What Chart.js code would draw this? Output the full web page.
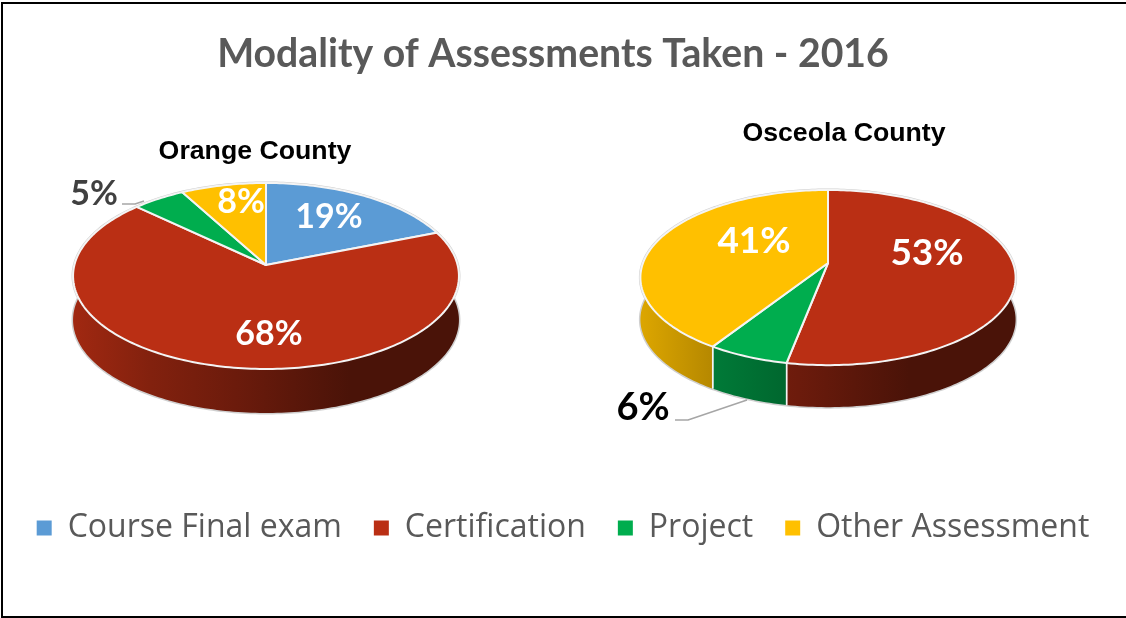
<!DOCTYPE html>
<html>
<head>
<meta charset="utf-8">
<title>Modality of Assessments Taken - 2016</title>
<script src="https://cdn.jsdelivr.net/npm/chart.js@4/dist/chart.umd.min.js"></script>
<style>
  html, body { margin: 0; padding: 0; background: #fff; overflow: hidden; }
  #frame { position: absolute; left: 1px; top: 2px; width: 1160px; height: 616px; box-sizing: border-box; border: 2px solid #000; }
  #pies { position: absolute; left: 0; top: 0; }
</style>
</head>
<body>
<div id="frame"></div>
<canvas id="pies" width="1126" height="618"></canvas>
<script>
const categories = ['Course Final exam', 'Certification', 'Project', 'Other Assessment'];
const counties = ['Orange County', 'Osceola County'];
const orangeValues = [19, 68, 5, 8];
const osceolaValues = [0, 53, 6, 41];
const chartTitle = 'Modality of Assessments Taken - 2016';

const colors = ['#5B9BD5', '#BA2F14', '#00AD4E', '#FFC000'];

// perspective of each pie: x,y = vertex on screen, p = tilt of the projection
const pieShapes = [
  { x: 266, y: 265, rx: 191.6, ry: 91.7, p: 0.118, depth: 44 },
  { x: 828, y: 263, rx: 185, ry: 85.2, p: 0.166, depth: 42 },
];
const countyTitles = [
  { x: 255, y: 152, size: 26.7 },
  { x: 844, y: 134, size: 26.7 },
];
// where each percentage goes, by category index
const labelSpots = [
  [
    { x: 329, y: 217, size: 34, color: '#fff' },
    { x: 269, y: 334, size: 34, color: '#fff' },
    { x: 94, y: 194, size: 34, color: '#404040' },
    { x: 241, y: 202, size: 34, color: '#fff' },
  ],
  [
    null,
    { x: 927, y: 253, size: 37, color: '#fff' },
    { x: 643, y: 408, size: 38, color: '#000' },
    { x: 754, y: 241, size: 37, color: '#fff' },
  ],
];
const leaders = [
  [[122, 204], [135, 204], [144, 201]],
  [[675, 420], [688, 420], [747, 400]],
];

function project(shape, theta, drop) {
  const u = Math.sin(theta);
  const v = Math.cos(theta);
  const w = 1 + shape.p * v;
  return [shape.x + (shape.rx * u) / w, shape.y - (shape.ry * v) / w + drop];
}

function shade(hex, k) {
  const n = parseInt(hex.slice(1), 16);
  const r = Math.round(((n >> 16) & 255) * k);
  const g = Math.round(((n >> 8) & 255) * k);
  const b = Math.round((n & 255) * k);
  return `rgb(${r},${g},${b})`;
}

function traceArc(ctx, shape, from, to, drop) {
  const steps = Math.max(2, Math.ceil(Math.abs(to - from) / 0.02));
  for (let i = 0; i <= steps; i++) {
    const p = project(shape, from + ((to - from) * i) / steps, drop);
    ctx.lineTo(p[0], p[1]);
  }
}

function drawHalo(ctx, shape) {
  ctx.beginPath();
  traceArc(ctx, shape, 0, Math.PI * 2, 0);
  ctx.closePath();
  ctx.moveTo(...project(shape, 0, shape.depth));
  traceArc(ctx, shape, 0, Math.PI * 2, shape.depth);
  ctx.closePath();
  ctx.strokeStyle = '#cfcfcf';
  ctx.lineWidth = 3;
  ctx.stroke();
}

function drawWall(ctx, shape, from, to, color) {
  const left = shape.x - shape.rx;
  const grad = ctx.createLinearGradient(left, 0, left + shape.rx * 2, 0);
  grad.addColorStop(0, shade(color, 0.86));
  grad.addColorStop(0.2, shade(color, 0.7));
  grad.addColorStop(0.42, shade(color, 0.58));
  grad.addColorStop(0.72, shade(color, 0.4));
  grad.addColorStop(1, shade(color, 0.4));
  ctx.beginPath();
  traceArc(ctx, shape, from, to, 0);
  traceArc(ctx, shape, to, from, shape.depth);
  ctx.closePath();
  ctx.fillStyle = grad;
  ctx.fill();
  // seam between two walls
  [from, to].forEach((theta) => {
    const a = project(shape, theta, 0);
    if (Math.cos(theta) < 0) {
      ctx.beginPath();
      ctx.moveTo(a[0], a[1]);
      ctx.lineTo(a[0], a[1] + shape.depth);
      ctx.strokeStyle = '#f4f4f4';
      ctx.lineWidth = 1.5;
      ctx.stroke();
    }
  });
}

function drawTop(ctx, shape, from, to, color) {
  ctx.beginPath();
  ctx.moveTo(shape.x, shape.y);
  traceArc(ctx, shape, from, to, 0);
  ctx.closePath();
  ctx.fillStyle = color;
  ctx.fill();
  ctx.strokeStyle = '#f4f4f4';
  ctx.lineWidth = 2;
  ctx.lineJoin = 'round';
  ctx.stroke();
}

// the arcs keep their angles from the doughnut controller, only the painting is ours
const tiltedPies = {
  id: 'tiltedPies',
  afterLayout(chart) {
    chart.titleBlock.left -= 10;
    chart.titleBlock.right -= 10;
  },
  beforeDatasetsDraw(chart) {
    const ctx = chart.ctx;
    ctx.save();
    chart.data.datasets.forEach((dataset, d) => {
      const shape = pieShapes[d];
      const arcs = chart.getDatasetMeta(d).data
        .map((arc, i) => ({
          i,
          from: arc.startAngle + Math.PI / 2,
          to: arc.endAngle + Math.PI / 2,
        }))
        .filter((a) => a.to > a.from);
      drawHalo(ctx, shape);
      arcs.forEach((a) => drawWall(ctx, shape, a.from, a.to, colors[a.i]));
      arcs.forEach((a) => drawTop(ctx, shape, a.from, a.to, colors[a.i]));

      ctx.beginPath();
      leaders[d].forEach((p, i) => (i ? ctx.lineTo(p[0], p[1]) : ctx.moveTo(p[0], p[1])));
      ctx.strokeStyle = '#a6a6a6';
      ctx.lineWidth = 1.5;
      ctx.stroke();

      ctx.textAlign = 'center';
      ctx.textBaseline = 'middle';
      dataset.data.forEach((value, i) => {
        const spot = labelSpots[d][i];
        if (!spot || !value) return;
        ctx.font = `bold ${spot.size}px Lato`;
        ctx.fillStyle = spot.color;
        ctx.fillText(`${value}%`, spot.x, spot.y);
      });

      ctx.font = `bold ${countyTitles[d].size}px "Liberation Sans"`;
      ctx.fillStyle = '#000';
      ctx.fillText(counties[d], countyTitles[d].x, countyTitles[d].y);
    });
    ctx.restore();
    return false;
  },
};

new Chart(document.getElementById('pies'), {
  type: 'pie',
  data: {
    labels: categories,
    datasets: [
      { label: counties[0], data: orangeValues, backgroundColor: colors, borderWidth: 0 },
      { label: counties[1], data: osceolaValues, backgroundColor: colors, borderWidth: 0 },
    ],
  },
  options: {
    responsive: false,
    animation: false,
    layout: { padding: { top: 31, bottom: 64 } },
    plugins: {
      tooltip: { enabled: false },
      title: {
        display: true,
        text: chartTitle,
        color: '#595959',
        font: { family: 'Lato', size: 39.2, weight: 'bold' },
        padding: { top: 0, bottom: 0 },
      },
      legend: {
        position: 'bottom',
        onClick: null,
        labels: {
          boxWidth: 15,
          boxHeight: 15,
          padding: 32,
          color: '#595959',
          font: { family: 'Open Sans', size: 32 },
        },
      },
    },
  },
  plugins: [tiltedPies],
});
</script>
</body>
</html>
